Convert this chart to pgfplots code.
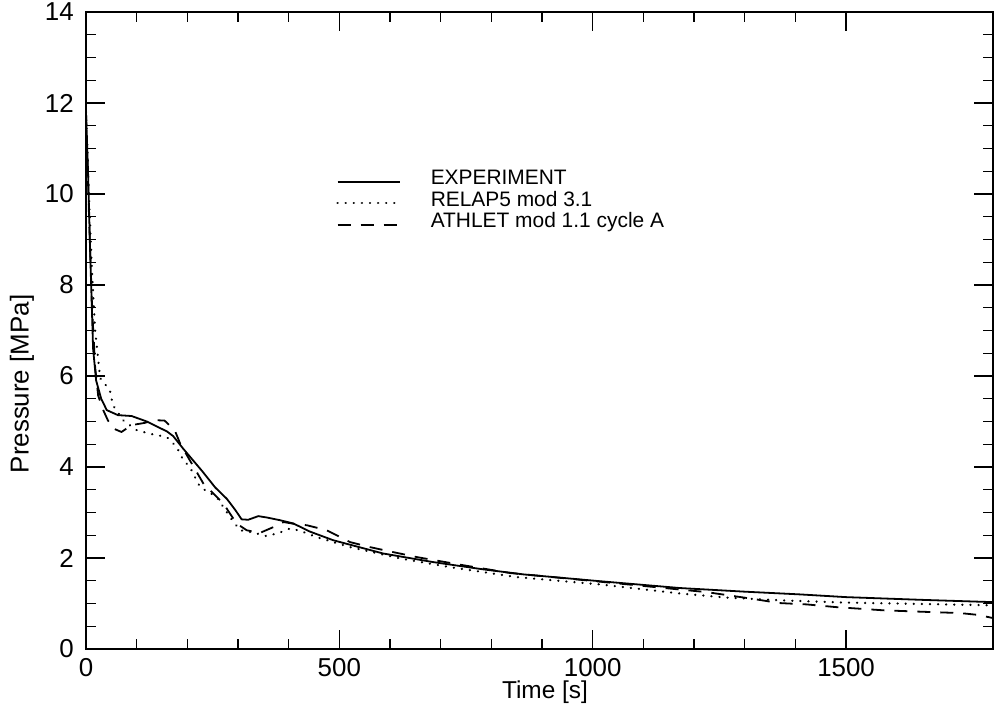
\documentclass[border=0pt]{standalone}
\usepackage{fontspec}
\setmainfont{Liberation Sans}
\usepackage{pgfplots}
\pgfplotsset{compat=1.18}
\begin{document}
\begin{tikzpicture}
\begin{axis}[
  at={(0,0)}, anchor=south west,
  scale only axis, width=907bp, height=637bp,
  xmin=0, xmax=1790, ymin=0, ymax=14,
  xtick={0,500,1000,1500}, minor x tick num=4,
  ytick={0,2,...,14}, minor y tick num=3,
  tick align=inside, major tick length=19bp, minor tick length=10bp,
  axis line style={line width=1.6bp},
  every tick/.style={line width=1.3bp, black},
  /pgf/number format/assume math mode=true,
  /pgf/number format/set thousands separator={},
  every tick label/.append style={font=\fontsize{26}{30}\selectfont},
  xticklabel style={inner sep=0pt, anchor=north, yshift=-9bp},
  yticklabel style={inner sep=0pt, anchor=east, xshift=-12bp},
  every axis x label/.style={at={(rel axis cs:0.506,0)}, anchor=base, yshift=-49bp, font=\fontsize{24.5}{28}\selectfont},
  every axis y label/.style={at={(rel axis cs:0,0.416)}, rotate=90, anchor=center, yshift=64bp, font=\fontsize{26}{30}\selectfont},
  xlabel={Time [s]},
  ylabel={Pressure [MPa]},
  legend style={at={(rel axis cs:0.2725,0.759)}, anchor=north west, draw=none, fill=none,
    font=\fontsize{21}{24}\selectfont, row sep=0pt, column sep=30bp,
    nodes={text height=14.5bp, text depth=4.5bp, inner sep=0pt}},
  legend cell align=left,
  legend image code/.code={\path[draw=none, fill=none] (0bp,-2bp) -- (0bp,12bp); \draw[#1] (0bp,-2bp) -- (62bp,-2bp);},
]
\addplot[black, line width=1.8bp] coordinates {
(0,11.8) (4,10.5) (8,8.8) (14,6.6) (20,5.9) (30,5.5) (41,5.25) (63,5.14) (90,5.12) (120,5.0) (160,4.78) (172,4.68) (192,4.4) (211,4.15) (230,3.9) (255,3.55) (278,3.3) (295,3.05) (307,2.85) (320,2.84) (340,2.92) (357,2.89) (383,2.83) (409,2.76) (442,2.58) (488,2.39) (586,2.10) (685,1.91) (784,1.75) (863,1.64) (1014,1.49) (1172,1.34) (1300,1.26) (1409,1.20) (1500,1.14) (1650,1.08) (1790,1.03)
};
\addlegendentry{EXPERIMENT}
\addplot[black, line width=2.4bp, line cap=round, dash pattern=on 0.1bp off 8bp] coordinates {
(0,11.8) (5,10.2) (11,8.5) (18,7.0) (28,5.95) (47,5.69) (53,5.36) (73,5.03) (100,4.81) (126,4.73) (159,4.66) (179,4.44) (192,4.15) (205,4.0) (225,3.56) (258,3.34) (284,2.90) (304,2.61) (330,2.56) (357,2.48) (380,2.55) (403,2.65) (422,2.60) (455,2.46) (521,2.24) (620,1.99) (718,1.80) (850,1.58) (1014,1.42) (1172,1.22) (1264,1.13) (1370,1.07) (1500,1.02) (1650,0.99) (1790,0.96)
};
\addlegendentry{RELAP5 mod 3.1}
\addplot[black, line width=1.8bp, dash pattern=on 13bp off 10bp] coordinates {
(0,11.8) (6,9.5) (12,7.5) (18,6.2) (24,5.57) (34,5.25) (43,5.03) (53,4.85) (70,4.77) (90,4.92) (116,4.97) (135,5.03) (155,5.02) (175,4.81) (186,4.51) (209,4.07) (232,3.63) (271,3.2) (297,2.76) (317,2.61) (343,2.55) (370,2.68) (390,2.79) (416,2.74) (436,2.72) (475,2.61) (521,2.35) (560,2.24) (606,2.13) (653,2.02) (745,1.84) (837,1.67) (1014,1.48) (1160,1.32) (1225,1.25) (1317,1.10) (1368,1.01) (1422,0.98) (1481,0.92) (1574,0.85) (1672,0.81) (1725,0.79) (1760,0.75) (1790,0.68)
};
\addlegendentry{ATHLET mod 1.1 cycle A}
\end{axis}
\pgfresetboundingbox
\path (-86bp,-60bp) rectangle (909bp,649bp);
\end{tikzpicture}
\end{document}
